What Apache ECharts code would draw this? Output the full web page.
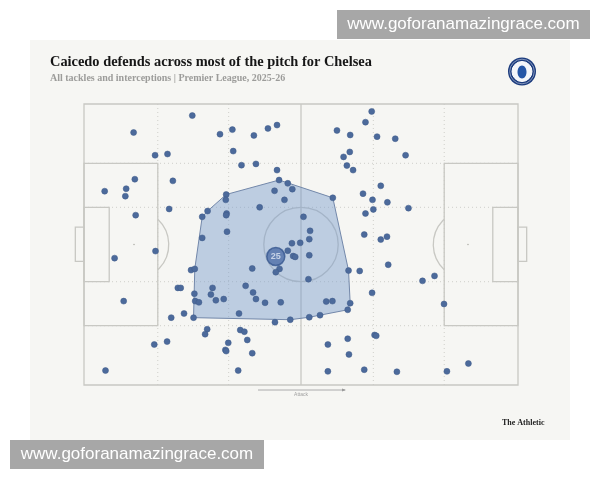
<!DOCTYPE html>
<html>
<head>
<meta charset="utf-8">
<script src="https://cdn.jsdelivr.net/npm/echarts@6/dist/echarts.min.js"></script>
<style>
  html, body { margin: 0; padding: 0; background: #fff; }
  #myChart { width: 600px; height: 480px; }
</style>
</head>
<body>
<div id="myChart"></div>
<script>
// pitch in metres, x = attacking direction, y runs top -> bottom
var pitchLength = 105
var pitchWidth = 68

// every tackle / interception (metres)
var actionX = [26.2, 12.0, 32.9, 35.9, 41.1, 44.5, 46.7, 17.2, 20.2, 36.1,
  38.1, 41.6, 46.7, 12.3, 21.5, 5.0, 10.2, 10.0, 47.2, 49.3,
  50.4, 46.1, 48.5, 20.6, 12.5, 34.4, 34.3, 29.9, 28.6, 34.5,
  34.4, 42.5, 53.1, 34.6, 28.6, 50.3, 52.3, 54.7, 54.5, 60.2,
  49.3, 50.6, 51.1, 54.5, 40.7, 47.3, 46.4, 25.9, 26.8, 64.0,
  66.7, 54.3, 22.7, 23.4, 31.1, 39.1, 30.7, 26.7, 40.9, 31.9,
  33.8, 41.6, 26.9, 27.8, 43.8, 47.6, 58.6, 60.1, 64.4, 63.8,
  24.2, 37.5, 26.5, 57.1, 54.5, 49.9, 46.2, 17.3, 7.4, 9.6,
  21.1, 29.8, 29.3, 37.8, 38.8, 39.5, 34.9, 34.2, 34.4, 40.7,
  17.0, 20.1, 5.2, 37.3, 69.6, 68.1, 61.2, 64.4, 70.9, 75.3,
  64.3, 62.8, 77.8, 63.6, 65.1, 71.8, 67.5, 69.8, 73.4, 78.5,
  70.0, 68.1, 67.8, 71.8, 73.3, 73.6, 81.9, 84.8, 69.7, 87.1,
  63.8, 70.3, 70.7, 59.0, 64.1, 59.0, 67.8, 75.7, 87.8, 93.0]
var actionY = [2.8, 6.9, 7.3, 6.2, 7.6, 5.9, 5.1, 12.4, 12.1, 11.4,
  14.8, 14.5, 16.0, 18.2, 18.6, 21.1, 20.5, 22.3, 18.4, 19.2,
  20.6, 21.0, 23.2, 25.4, 26.9, 21.9, 23.2, 25.9, 27.3, 26.5,
  26.9, 25.0, 27.3, 30.9, 32.4, 33.7, 33.6, 30.7, 32.7, 22.7,
  35.5, 36.8, 37.0, 36.6, 39.8, 39.9, 40.7, 40.2, 39.9, 40.3,
  40.4, 42.4, 44.5, 44.5, 44.5, 44.0, 46.1, 45.9, 45.6, 47.5,
  47.2, 47.2, 47.7, 48.0, 48.1, 48.0, 47.8, 47.7, 48.2, 49.8,
  50.7, 50.7, 51.7, 51.1, 51.6, 52.2, 52.8, 35.6, 37.3, 47.7,
  51.7, 54.5, 55.7, 54.7, 55.1, 57.1, 57.8, 59.5, 59.8, 60.3,
  58.2, 57.5, 64.5, 64.5, 1.8, 4.4, 6.4, 7.5, 7.9, 8.4,
  11.6, 12.8, 12.4, 14.9, 16.0, 19.8, 21.7, 23.2, 23.8, 25.2,
  25.5, 26.5, 31.6, 32.8, 32.1, 38.9, 42.8, 41.6, 45.7, 48.4,
  56.8, 55.9, 56.1, 58.2, 60.6, 64.7, 64.3, 64.8, 64.7, 62.8]

// outline of the shaded zone
var hullX = [34.4, 47.2, 60.2, 64.0, 64.4, 63.8, 57.1, 54.5, 49.9, 26.5, 26.8, 28.6, 29.9]
var hullY = [21.9, 18.4, 22.7, 40.3, 48.2, 49.8, 51.1, 51.6, 52.2, 51.7, 39.9, 27.3, 25.9]

// average position badge
var avgX = 46.4
var avgY = 36.9
var shirtNumber = '25'

var lineColor = '#c8c8c3'
var dotColor = '#4c6a9b'

// pitch markings drawn through the grid's coordinate system
function renderPitch(params, api) {
  var p = function (x, y) { return api.coord([x, y]) }
  var len = function (m) { return api.size([m, 0])[0] }
  var solid = { stroke: lineColor, lineWidth: 1.3, fill: null }
  var dotted = { stroke: '#cfcfca', lineWidth: 1, lineDash: [1, 3], fill: null }
  var kids = []

  function seg(x1, y1, x2, y2, style) {
    var a = p(x1, y1), b = p(x2, y2)
    kids.push({ type: 'line', shape: { x1: a[0], y1: a[1], x2: b[0], y2: b[1] }, style: style })
  }
  function box(x1, y1, x2, y2, style) {
    var a = p(x1, y1), b = p(x2, y2)
    kids.push({ type: 'rect', shape: { x: Math.min(a[0], b[0]), y: a[1], width: Math.abs(b[0] - a[0]), height: b[1] - a[1] }, style: style })
  }

  // zone grid
  var zoneX = [17.85, 35, 70, 87.15]
  var zoneY = [14.35, 25, 43, 53.65]
  zoneX.forEach(function (x) { seg(x, 0, x, pitchWidth, dotted) })
  zoneY.forEach(function (y) { seg(0, y, pitchLength, y, dotted) })

  // outline + halfway
  box(0, 0, pitchLength, pitchWidth, solid)
  seg(pitchLength / 2, 0, pitchLength / 2, pitchWidth, solid)
  var c = p(pitchLength / 2, pitchWidth / 2)
  kids.push({ type: 'circle', shape: { cx: c[0], cy: c[1], r: len(9) }, style: solid })

  // boxes, goals, spots, arcs for both ends
  var arcR = 8.4, spot = 12.1, boxD = 17.85
  var ang = Math.acos((boxD - spot) / arcR)
  ;[0, 1].forEach(function (side) {
    var x0 = side ? pitchLength : 0
    var dir = side ? -1 : 1
    box(Math.min(x0, x0 + dir * boxD), 14.35, Math.max(x0, x0 + dir * boxD), 53.65, solid)
    box(Math.min(x0, x0 + dir * 6.1), 25, Math.max(x0, x0 + dir * 6.1), 43, solid)
    box(Math.min(x0, x0 - dir * 2.1), 29.8, Math.max(x0, x0 - dir * 2.1), 38.1, solid)
    var s = p(x0 + dir * spot, pitchWidth / 2)
    kids.push({ type: 'circle', shape: { cx: s[0], cy: s[1], r: 0.8 }, style: { fill: '#b0b0aa' } })
    var start = side ? Math.PI - ang : -ang
    kids.push({ type: 'arc', shape: { cx: s[0], cy: s[1], r: len(arcR), startAngle: start, endAngle: start + 2 * ang, clockwise: true }, style: solid })
  })

  return { type: 'group', children: kids }
}

function renderHull(params, api) {
  var pts = hullX.map(function (x, i) { return api.coord([x, hullY[i]]) })
  return {
    type: 'polygon',
    shape: { points: pts },
    style: { fill: 'rgba(120,155,205,0.45)', stroke: '#7388aa', lineWidth: 1 }
  }
}

var options = {
  animation: false,
  backgroundColor: '#fff',
  grid: { left: 84, top: 104, width: 434, height: 281 },
  xAxis: { type: 'value', min: 0, max: pitchLength, show: false },
  yAxis: { type: 'value', min: 0, max: pitchWidth, inverse: true, show: false },
  graphic: [
    { type: 'rect', z: -10, shape: { x: 30, y: 40, width: 540, height: 400 }, style: { fill: '#f6f6f3' } },
    { type: 'text', style: { x: 50, y: 62, text: 'Caicedo defends across most of the pitch for Chelsea', font: 'bold 14.4px "Liberation Serif"', fill: '#161616', textVerticalAlign: 'middle' } },
    { type: 'text', style: { x: 50, y: 78.5, text: 'All tackles and interceptions | Premier League, 2025-26', font: 'bold 10px "Liberation Serif"', fill: '#9c9c9a', textVerticalAlign: 'middle' } },
    // crest
    { type: 'circle', shape: { cx: 522, cy: 71.5, r: 14 }, style: { fill: '#1c3c7e' } },
    { type: 'circle', shape: { cx: 522, cy: 71.5, r: 10 }, style: { fill: '#f4f6fa', stroke: '#fff', lineWidth: 1 } },
    { type: 'circle', shape: { cx: 522, cy: 71.5, r: 12.3 }, style: { fill: null, stroke: '#c9d2e4', lineWidth: 0.6 } },
    { type: 'ellipse', shape: { cx: 522, cy: 72, rx: 4.5, ry: 6.5 }, style: { fill: '#2556a6' } },
    // direction of play
    { type: 'line', shape: { x1: 258, y1: 390, x2: 345, y2: 390 }, style: { stroke: '#9a9a9a', lineWidth: 0.8 } },
    { type: 'polygon', shape: { points: [[346, 390], [342, 388.5], [342, 391.5]] }, style: { fill: '#9a9a9a' } },
    { type: 'text', style: { x: 301, y: 395, text: 'Attack', font: '5px "Liberation Sans"', fill: '#a0a0a0', textAlign: 'center', textVerticalAlign: 'middle' } },
    { type: 'text', style: { x: 502, y: 423, text: 'The Athletic', font: 'bold 8px "Liberation Serif"', fill: '#222', textVerticalAlign: 'middle' } },
    // watermarks
    { type: 'rect', z: 100, shape: { x: 337, y: 10, width: 253, height: 29 }, style: { fill: '#a7a7a7' } },
    { type: 'text', z: 101, style: { x: 463.5, y: 24.5, text: 'www.goforanamazingrace.com', font: '17px "Liberation Sans"', fill: '#fff', textAlign: 'center', textVerticalAlign: 'middle' } },
    { type: 'rect', z: 100, shape: { x: 10, y: 440, width: 254, height: 29 }, style: { fill: '#a7a7a7' } },
    { type: 'text', z: 101, style: { x: 137, y: 454.5, text: 'www.goforanamazingrace.com', font: '17px "Liberation Sans"', fill: '#fff', textAlign: 'center', textVerticalAlign: 'middle' } }
  ],
  series: [
    { type: 'custom', z: 1, silent: true, renderItem: renderPitch, data: [[0, 0]] },
    { type: 'custom', z: 2, silent: true, renderItem: renderHull, data: [[0, 0]] },
    {
      name: 'Tackles & interceptions',
      type: 'scatter',
      z: 3,
      symbolSize: 6,
      itemStyle: { color: dotColor, borderColor: '#3f5b88', borderWidth: 0.5, opacity: 1 },
      data: actionX.map(function (x, i) { return [x, actionY[i]] })
    },
    {
      name: 'Average position',
      type: 'scatter',
      z: 4,
      symbolSize: 18,
      itemStyle: { color: '#4d6ea8', borderColor: '#36568e', borderWidth: 1.5 },
      label: { show: true, position: 'inside', formatter: shirtNumber, color: '#dde6f3', fontWeight: 'bold', fontSize: 9, fontFamily: 'Liberation Sans' },
      data: [[avgX, avgY]]
    }
  ]
}

var myChart = echarts.init(document.getElementById('myChart'))
myChart.setOption(options)
</script>
</body>
</html>
